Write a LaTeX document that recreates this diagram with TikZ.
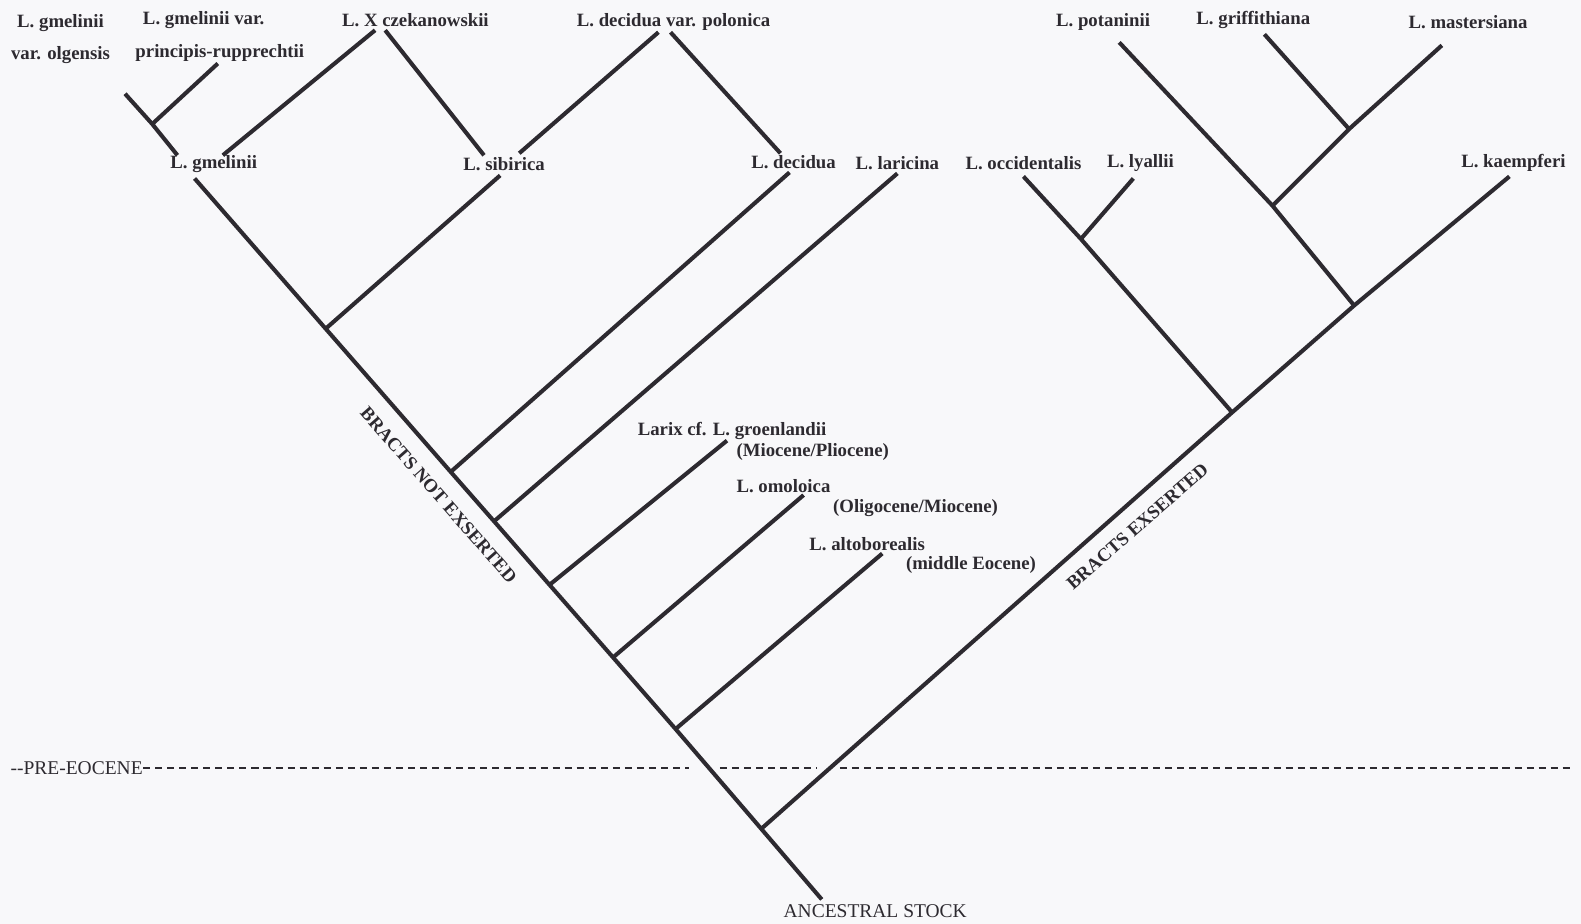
\documentclass[tikz,border=0pt]{standalone}
\usepackage{fontspec}
\setmainfont{Liberation Serif}
\definecolor{ink}{RGB}{45,42,48}
\definecolor{paper}{RGB}{248,248,250}
\begin{document}
\begin{tikzpicture}[x=0.02cm, y=-0.02cm,
  taxon/.style={font=\bfseries\fontsize{10.6}{12}\selectfont, text=ink, inner sep=0pt},
  bracts/.style={font=\bfseries\fontsize{10.6}{12}\selectfont, text=ink, inner sep=0pt},
  era/.style={font=\fontsize{11}{12}\selectfont, text=ink, inner sep=0pt},
  branch/.style={draw=ink, line width=2.3pt},
  epoch/.style={draw=ink, line width=1.1pt, dash pattern=on 4pt off 2.8pt}]
  % Page
  \fill[paper] (0,0) rectangle (1568,916);
  \useasboundingbox (0,0) rectangle (1568,916);

  % Taxa (top row)
  \node[taxon] (olgA) at (60,23) {L. gmelinii};
  \node[taxon] (olgB) at (60,55) {var. olgensis};
  \node[taxon] (priA) at (202,20) {L. gmelinii var.};
  \node[taxon] (priB) at (218,53) {principis-rupprechtii};
  \node[taxon] (cze) at (412,20) {L. X czekanowskii};
  \node[taxon] (pol) at (668,22) {L. decidua var. polonica};
  \node[taxon] (pot) at (1094,22) {L. potaninii};
  \node[taxon] (gri) at (1243,20) {L. griffithiana};
  \node[taxon] (mas) at (1456,22) {L. mastersiana};
  % Taxa (second row)
  \node[taxon] (gme) at (212,163) {L. gmelinii};
  \node[taxon] (sib) at (500,163) {L. sibirica};
  \node[taxon] (dec) at (787,161) {L. decidua};
  \node[taxon] (lar) at (890,162) {L. laricina};
  \node[taxon] (occ) at (1015,162) {L. occidentalis};
  \node[taxon] (lya) at (1131,162) {L. lyallii};
  \node[taxon] (kae) at (1501,162) {L. kaempferi};
  % Fossils
  \node[taxon] (groA) at (726,427) {Larix cf. L. groenlandii};
  \node[taxon] (groB) at (806,448) {(Miocene/Pliocene)};
  \node[taxon] (omoA) at (777,482) {L. omoloica};
  \node[taxon] (omoB) at (908,504) {(Oligocene/Miocene)};
  \node[taxon] (altA) at (860,540) {L. altoborealis};
  \node[taxon] (altB) at (963,560) {(middle Eocene)};

  % Branch points
  \coordinate (olgTop) at (124,93);
  \coordinate (jPri) at (151,123);
  \coordinate (olgEnd) at (176,154);
  \coordinate (priTop) at (216,63);
  \coordinate (czeL) at (372,30);
  \coordinate (czeLend) at (221,154);
  \coordinate (czeR) at (382,30);
  \coordinate (czeRend) at (480,154);
  \coordinate (polL) at (653,32);
  \coordinate (polLend) at (515,152);
  \coordinate (polR) at (665,32);
  \coordinate (polRend) at (774,152);
  \coordinate (gmeTop) at (193,177);
  \coordinate (sibTop) at (496,174);
  \coordinate (decTop) at (783,171);
  \coordinate (larTop) at (890,172);
  \coordinate (groTop) at (721,437);
  \coordinate (omoTop) at (797,491);
  \coordinate (altTop) at (875,549);
  \coordinate (jSib) at (323,326);
  \coordinate (jDec) at (447,468);
  \coordinate (jLar) at (490,517);
  \coordinate (jGro) at (545,580);
  \coordinate (jOmo) at (608,652);
  \coordinate (jAlt) at (670,723);
  \coordinate (jRoot) at (755,822);
  \coordinate (root) at (815,892);
  \coordinate (kaeTop) at (1497,175);
  \coordinate (jPot) at (1343,303);
  \coordinate (jOcc) at (1222,409);
  \coordinate (occTop) at (1015,175);
  \coordinate (jLya) at (1072,237);
  \coordinate (lyaTop) at (1124,177);
  \coordinate (potTop) at (1110,42);
  \coordinate (jMas) at (1262,204);
  \coordinate (jGri) at (1338,128);
  \coordinate (masTop) at (1430,45);
  \coordinate (griTop) at (1254,34);

  % Bracts not exserted
  \draw[branch] (olgTop) -- (jPri) -- (olgEnd);
  \draw[branch] (priTop) -- (jPri);
  \draw[branch] (czeL) -- (czeLend);
  \draw[branch] (czeR) -- (czeRend);
  \draw[branch] (polL) -- (polLend);
  \draw[branch] (polR) -- (polRend);
  \draw[branch] (gmeTop) -- (jSib) -- (jDec) -- (jLar) -- (jGro) -- (jOmo)
    -- (jAlt) -- (jRoot) -- (root);
  \draw[branch] (jSib) -- (sibTop);
  \draw[branch] (jDec) -- (decTop);
  \draw[branch] (jLar) -- (larTop);
  \draw[branch] (jGro) -- (groTop);
  \draw[branch] (jOmo) -- (omoTop);
  \draw[branch] (jAlt) -- (altTop);
  % Bracts exserted
  \draw[branch] (jRoot) -- (jOcc) -- (jPot) -- (kaeTop);
  \draw[branch] (jOcc) -- (jLya) -- (occTop);
  \draw[branch] (jLya) -- (lyaTop);
  \draw[branch] (jPot) -- (jMas) -- (potTop);
  \draw[branch] (jMas) -- (jGri) -- (masTop);
  \draw[branch] (jGri) -- (griTop);

  % Group labels
  \node[bracts, rotate=-48.8] (notex) at (435,491) {BRACTS NOT EXSERTED};
  \node[bracts, rotate=41.3] (exs) at (1128,522) {BRACTS EXSERTED};

  % Pre-Eocene line
  \node[era] (pre) at (76,762) {-{}-PRE-EOCENE};
  \coordinate (preA) at (683,762);
  \coordinate (preB) at (714,762);
  \coordinate (preC) at (810,762);
  \coordinate (preD) at (833,762);
  \coordinate (preE) at (1560,762);
  \draw[epoch] (pre.east) -- (preA);
  \draw[epoch] (preB) -- (preC);
  \draw[epoch] (preD) -- (preE);
  \node[era] (anc) at (868,904) {ANCESTRAL STOCK};
\end{tikzpicture}
\end{document}
